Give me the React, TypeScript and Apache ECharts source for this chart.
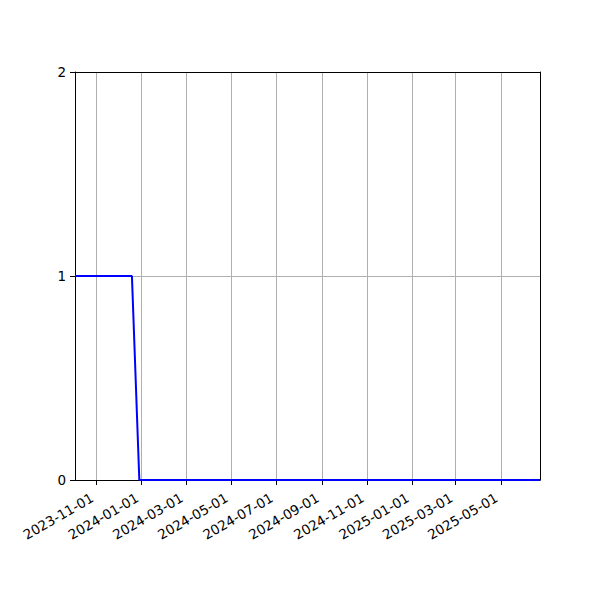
import { useEffect, useRef } from 'react';
import * as echarts from 'echarts';

// data points of the step line
const dates = ['2023-10-03', '2023-12-19', '2023-12-29', '2025-06-23'];
const values = [1, 1, 0, 0];

// axis range and ticks
const xMin = '2023-10-03';
const xMax = '2025-06-23';
const xTickDates = [
  '2023-11-01', '2024-01-01', '2024-03-01', '2024-05-01', '2024-07-01',
  '2024-09-01', '2024-11-01', '2025-01-01', '2025-03-01', '2025-05-01',
];
const yTicks = [0, 1, 2];

const ts = (d: string) => new Date(d + 'T00:00:00Z').getTime();
const pad = (n: number) => String(n).padStart(2, '0');
const fmtDate = (v: number) => {
  const d = new Date(v);
  return `${d.getUTCFullYear()}-${pad(d.getUTCMonth() + 1)}-${pad(d.getUTCDate())}`;
};

const FONT = 'DejaVu Sans';

const App = () => {
  const chartRef = useRef<HTMLDivElement>(null);

  useEffect(() => {
    if (!chartRef.current) return;
    const chart = echarts.init(chartRef.current, undefined, { renderer: 'svg' });

    const xTicks = xTickDates.map(ts);
    // extra axes only to draw the top / right frame lines above the grid lines
    const borderAxis = {
      show: true,
      z: 5,
      axisLine: { show: true, onZero: false, lineStyle: { color: '#000', width: 1 } },
      axisTick: { show: false },
      axisLabel: { show: false },
      splitLine: { show: false },
    };

    chart.setOption({
      animation: false,
      backgroundColor: '#fff',
      grid: { left: 75, top: 72, width: 465, height: 408, containLabel: false },
      xAxis: [
        {
          type: 'value',
          min: ts(xMin),
          max: ts(xMax),
          position: 'bottom',
          axisLine: { show: true, onZero: false, lineStyle: { color: '#000', width: 1 } },
          axisTick: {
            show: true,
            length: 5,
            customValues: xTicks,
            lineStyle: { color: '#000', width: 1 },
          },
          axisLabel: {
            customValues: xTicks,
            formatter: (v: number) => fmtDate(v),
            rotate: 30,
            margin: 14,
            padding: [0, 5, 0, 0],
            fontFamily: FONT,
            fontSize: 13.5,
            color: '#000',
            hideOverlap: false,
          },
          splitLine: { show: true, lineStyle: { color: '#b0b0b0', width: 1 } },
        },
        { ...borderAxis, type: 'value', min: ts(xMin), max: ts(xMax), position: 'top' },
      ],
      yAxis: [
        {
          type: 'value',
          min: 0,
          max: 2,
          interval: 1,
          position: 'left',
          axisLine: { show: true, onZero: false, lineStyle: { color: '#000', width: 1 } },
          axisTick: {
            show: true,
            length: 5,
            customValues: yTicks,
            lineStyle: { color: '#000', width: 1 },
          },
          axisLabel: {
            customValues: yTicks,
            margin: 9,
            fontFamily: FONT,
            fontSize: 13.5,
            color: '#000',
          },
          splitLine: { show: true, lineStyle: { color: '#b0b0b0', width: 1 } },
        },
        { ...borderAxis, type: 'value', min: 0, max: 2, position: 'right' },
      ],
      series: [
        {
          type: 'line',
          xAxisIndex: 0,
          yAxisIndex: 0,
          data: dates.map((d, i) => [ts(d), values[i]]),
          symbol: 'none',
          lineStyle: { color: '#0000ff', width: 2 },
          itemStyle: { color: '#0000ff' },
          z: 3,
        },
      ],
    });

    return () => {
      chart.dispose();
    };
  }, []);

  return (
    <div
      ref={chartRef}
      style={{ position: 'fixed', left: 0, top: 0, width: '600px', height: '600px' }}
    />
  );
};

export default App;
